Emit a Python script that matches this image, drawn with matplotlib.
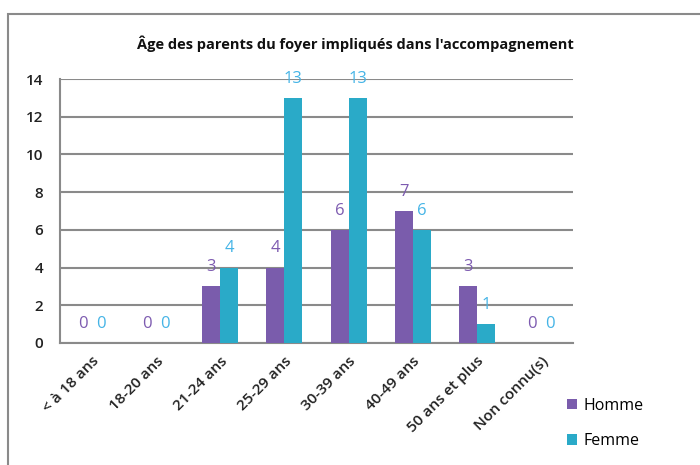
import matplotlib.pyplot as plt
import numpy as np
from matplotlib.patches import Rectangle

# Données
categories = ["< à 18 ans", "18-20 ans", "21-24 ans", "25-29 ans",
              "30-39 ans", "40-49 ans", "50 ans et plus", "Non connu(s)"]
homme = [0, 0, 3, 4, 6, 7, 3, 0]
femme = [0, 0, 4, 13, 13, 6, 1, 0]
yticks = [0, 2, 4, 6, 8, 10, 12, 14]

col_h = "#7a5cac"
col_f = "#2aaac8"
lab_h = "#7d5bb0"
lab_f = "#45b4e6"

plt.rcParams['font.family'] = ['Open Sans', 'DejaVu Sans']

fig = plt.figure(figsize=(7, 4.65), dpi=100)
ax = fig.add_axes([0.0857, 0.2624, 0.7329, 0.5677])

x = np.arange(len(categories))
w = 0.28
ax.bar(x - w / 2, homme, w, color=col_h, label="Homme", zorder=3)
ax.bar(x + w / 2, femme, w, color=col_f, label="Femme", zorder=3)

for i in range(len(categories)):
    ax.text(x[i] - w / 2, homme[i] + 0.6, str(homme[i]), ha="center", va="bottom",
            color=lab_h, fontsize=12)
    ax.text(x[i] + w / 2, femme[i] + 0.6, str(femme[i]), ha="center", va="bottom",
            color=lab_f, fontsize=12)

ax.set_xlim(-0.5, len(categories) - 0.5)
ax.set_ylim(0, 14)
ax.set_yticks(yticks)
ax.set_yticklabels([str(v) for v in yticks], fontsize=11, color="#222222",
                   fontweight="semibold")
ax.yaxis.grid(True, color="#8a8a8a", linewidth=1.5, zorder=0)
ax.set_xticks(x)
ax.set_xticklabels(categories, rotation=45, ha="right", rotation_mode="anchor",
                   fontsize=11, color="#222222", fontweight="semibold")
ax.tick_params(length=0, pad=8)
ax.tick_params(axis="y", pad=12)
for s in ["top", "right"]:
    ax.spines[s].set_visible(False)
for s in ["left", "bottom"]:
    ax.spines[s].set_color("#8a8a8a")
    ax.spines[s].set_linewidth(1.5)

fig.text(0.508, 0.905, "Âge des parents du foyer impliqués dans l'accompagnement",
         ha="center", va="center", fontsize=10.5, fontweight="bold", color="#111111")

h, l = ax.get_legend_handles_labels()
fig.legend(h, l, loc="upper left", bbox_to_anchor=(0.79, 0.175), frameon=False,
           fontsize=11.5, handlelength=0.6, handleheight=0.6, handletextpad=0.4,
           labelspacing=1.2)

# cadre
fig.patches.append(Rectangle((8 / 700, -0.1), 1.2, 0.1 + 1 - 14 / 465,
                             transform=fig.transFigure, fill=False,
                             edgecolor="#8a8a8a", linewidth=1.5))

plt.savefig("out.png", dpi=100)
